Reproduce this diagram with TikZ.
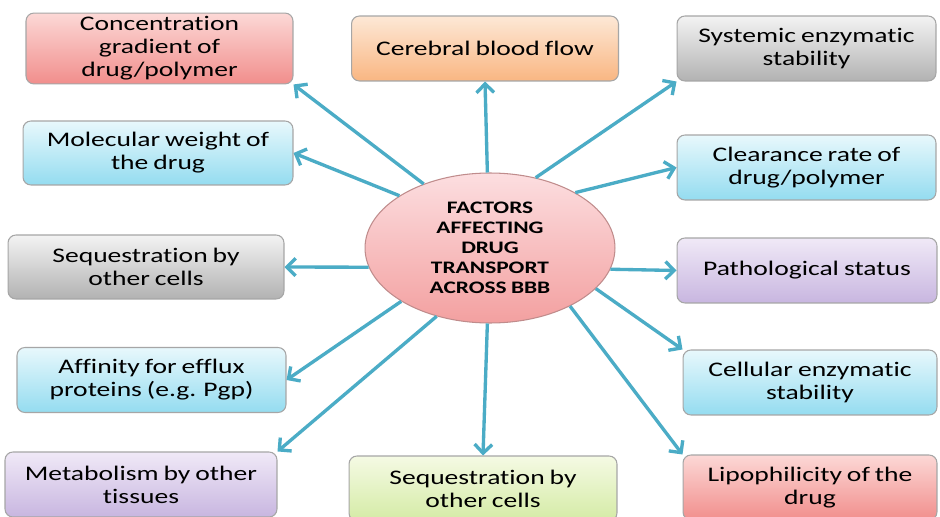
\documentclass[tikz,border=0pt]{standalone}
\usepackage{fontspec}
\setmainfont{Carlito}[FakeStretch=1.33, WordSpace=0.8, Ligatures=NoCommon]
\usepackage{tikz}
\usetikzlibrary{positioning, arrows.meta, shapes.geometric}
\definecolor{arrowblue}{RGB}{75,172,198}
\definecolor{redtop}{RGB}{252,216,214}
\definecolor{redbot}{RGB}{241,142,140}
\definecolor{bluetop}{RGB}{232,248,252}
\definecolor{bluebot}{RGB}{148,220,240}
\definecolor{orangetop}{RGB}{253,232,214}
\definecolor{orangebot}{RGB}{249,182,130}
\definecolor{greytop}{RGB}{243,243,243}
\definecolor{greybot}{RGB}{178,178,178}
\definecolor{purpletop}{RGB}{240,233,247}
\definecolor{purplebot}{RGB}{200,182,224}
\definecolor{greentop}{RGB}{245,250,228}
\definecolor{greenbot}{RGB}{212,235,165}
\definecolor{hubtop}{RGB}{252,222,224}
\definecolor{hubbot}{RGB}{243,160,160}
\tikzset{
	factor/.style 2 args={
		draw=black!35,
		line width=.6pt,
		rounded corners=4.5pt,
		top color=#1,
		bottom color=#2,
		align=center,
		text=black,
		font=\fontsize{11.8}{13.1}\selectfont,
		minimum width=5.34cm,
		minimum height=1.3cm,
		inner sep=2pt
	},
	hub/.style={
		ellipse,
		draw=red!45!black!45,
		line width=.6pt,
		top color=hubtop,
		bottom color=hubbot,
		align=center,
		text=black,
		font=\bfseries\fontsize{10}{11.4}\selectfont,
		minimum width=5cm,
		minimum height=3cm,
		inner sep=0pt
	},
	edge/.style={
		-{Straight Barb[length=5pt,width=10pt]},
		draw=arrowblue,
		line width=1.9pt
	}
}

\begin{document}
\begin{tikzpicture}[x=0.02cm, y=-0.02cm]
\path[use as bounding box, fill=white] (0,0) rectangle (940,517);

\node[hub] (bbb) at (490,248) {FACTORS\\AFFECTING\\DRUG\\TRANSPORT\\ACROSS BBB};

\node[factor={redtop}{redbot}] (conc) at (159.5,48.5) {Concentration\\gradient of\\drug/polymer};
\node[factor={bluetop}{bluebot}, minimum width=5.4cm, minimum height=1.28cm] (molw) at (158,153) {Molecular weight of\\the drug};
\node[factor={orangetop}{orangebot}] (cbf) at (485,48.5) {Cerebral blood flow};
\node[factor={greytop}{greybot}, minimum width=5.18cm] (sys) at (806.5,48.5) {Systemic enzymatic\\stability};
\node[factor={bluetop}{bluebot}, minimum width=5.18cm] (clear) at (806.5,167.5) {Clearance rate of\\drug/polymer};
\node[factor={greytop}{greybot}, minimum width=5.52cm, minimum height=1.28cm] (seqleft) at (146,267) {Sequestration by\\other cells};
\node[factor={purpletop}{purplebot}, minimum width=5.2cm] (patho) at (807,270.5) {Pathological status};
\node[factor={bluetop}{bluebot}, minimum width=5.38cm] (efflux) at (151.5,380) {Affinity for efflux\\proteins (e.g. Pgp)};
\node[factor={purpletop}{purplebot}, minimum width=5.44cm] (metab) at (141,484.5) {Metabolism by other\\tissues};
\node[factor={greentop}{greenbot}, minimum width=5.36cm] (seqbottom) at (483,488.5) {Sequestration by\\other cells};
\node[factor={bluetop}{bluebot}, minimum width=5.08cm] (cell) at (810,382.5) {Cellular enzymatic\\stability};
\node[factor={redtop}{redbot}, minimum width=5.08cm] (lipo) at (810,487.5) {Lipophilicity of the\\drug};

\draw[edge] (bbb.136) -- (conc.south east);
\draw[edge] (bbb.150) -- (molw.east);
\draw[edge] (bbb.92) -- (cbf.south);
\draw[edge] (bbb.57) -- (sys.south west);
\draw[edge] (bbb.33) -- (clear.west);
\draw[edge] (bbb.189) -- (seqleft.east);
\draw[edge] (bbb.350) -- (patho.west);
\draw[edge] (bbb.211) -- (efflux.east);
\draw[edge] (bbb.232) -- (metab.north east);
\draw[edge] (bbb.268) -- (seqbottom.north);
\draw[edge] (bbb.339) -- (cell.north west);
\draw[edge] (bbb.324) -- (lipo.north west);
\end{tikzpicture}
\end{document}
